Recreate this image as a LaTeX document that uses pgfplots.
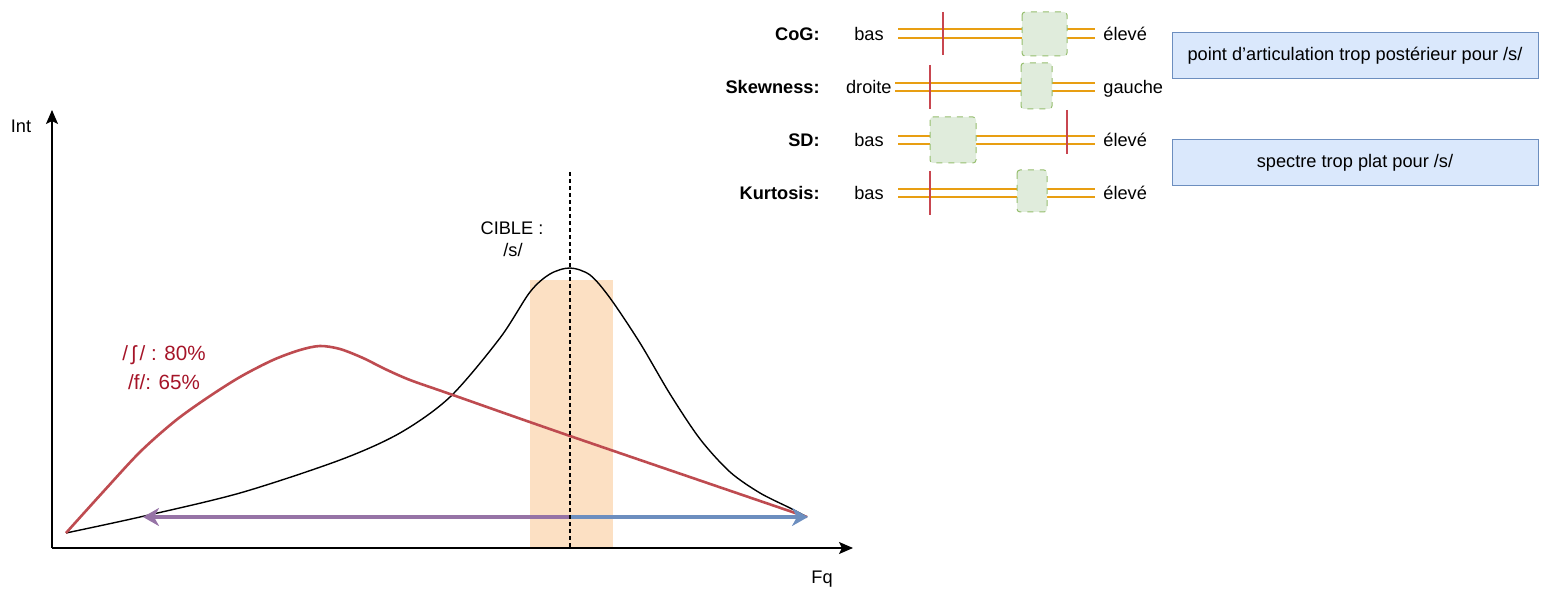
\documentclass[border=0pt]{standalone}
\usepackage{fontspec}
\setmainfont{Liberation Sans}
\usepackage{pgfplots}
\pgfplotsset{compat=1.18}
\usetikzlibrary{arrows.meta}
\definecolor{redc}{RGB}{190,75,80}
\definecolor{redtxt}{RGB}{165,20,40}
\definecolor{purc}{RGB}{150,115,166}
\definecolor{bluc}{RGB}{108,142,191}
\definecolor{bandc}{RGB}{252,224,195}
\definecolor{orc}{RGB}{232,158,18}
\definecolor{tickc}{RGB}{200,70,80}
\definecolor{grfill}{RGB}{224,236,220}
\definecolor{grdraw}{RGB}{150,190,110}
\definecolor{blfill}{RGB}{218,232,252}
\definecolor{bldraw}{RGB}{108,142,191}
\begin{document}
\begin{tikzpicture}[every node/.style={font=\fontsize{9.1}{11}\selectfont, inner sep=0pt}]
\begin{axis}[width=772.5pt,height=296pt,scale only axis,
  xmin=0,xmax=1545,ymin=0,ymax=592,y dir=reverse,hide axis,clip=false]
\path (axis cs:0,0) rectangle (axis cs:1545,592);
% band
\addplot[fill=bandc,draw=none] coordinates {(530,280) (613,280) (613,548) (530,548)} -- cycle;
% black curve
\addplot[black,line width=0.7pt,smooth,mark=none] coordinates {
(66,533) (140,517) (240,493) (340,460) (400,433) (450,397) (500,338) (530,292)
(550,274) (570,268) (590,275) (610,298) (640,343) (670,394) (700,439) (730,472)
(760,493) (790,508) (807,517)};
% red curve
\addplot[redc,line width=1.3pt,smooth,mark=none] coordinates {
(66,533) (103,492) (140,452) (175,421) (207,398) (240,377) (273,360) (300,350) (320,346)
(340,349) (363,358) (385,369) (410,380) (450,394) (570,436) (807,517)};
% arrows
\addplot[purc,line width=2pt,-{Stealth[length=8pt,width=9pt,inset=2.5pt]},mark=none] coordinates {(570,517) (143,517)};
\addplot[bluc,line width=2pt,-{Stealth[length=8pt,width=9pt,inset=2.5pt]},mark=none] coordinates {(570,517) (808,517)};
% dashed target line
\draw[black,line width=0.6pt,dash pattern=on 2pt off 1.5pt] (axis cs:570,172) -- (axis cs:570,548);
% axes
\draw[black,line width=0.75pt,-{Stealth[length=7pt,width=6pt,inset=1.5pt]}] (axis cs:52,548) -- (axis cs:52,110);
\draw[black,line width=0.75pt,-{Stealth[length=7pt,width=6pt,inset=1.5pt]}] (axis cs:52,548) -- (axis cs:853,548);
\node at (axis cs:21,126) {Int};
\node at (axis cs:822,579) {Fq};
\node at (axis cs:512,228) {CIBLE :};
\node at (axis cs:513,250) {/s/};
\node[text=redtxt,font=\fontsize{10.3}{12}\selectfont] at (axis cs:164,355) {/\,ʃ\,/ : 80\%};
\node[text=redtxt,font=\fontsize{10.3}{12}\selectfont] at (axis cs:164,382) {/f/: 65\%};
% sliders
\draw[orc,line width=1.4pt] (axis cs:898,29) -- (axis cs:1095,29);
\draw[orc,line width=1.4pt] (axis cs:898,38) -- (axis cs:1095,38);
\draw[orc,line width=1.4pt] (axis cs:895,83) -- (axis cs:1095,83);
\draw[orc,line width=1.4pt] (axis cs:895,91) -- (axis cs:1095,91);
\draw[orc,line width=1.4pt] (axis cs:898,136) -- (axis cs:1095,136);
\draw[orc,line width=1.4pt] (axis cs:898,144) -- (axis cs:1095,144);
\draw[orc,line width=1.4pt] (axis cs:898,189) -- (axis cs:1095,189);
\draw[orc,line width=1.4pt] (axis cs:898,197) -- (axis cs:1095,197);
\draw[grdraw,fill=grfill,dashed,line width=0.5pt,rounded corners=1.5pt] (axis cs:1022,12) rectangle (axis cs:1067,56);
\draw[grdraw,fill=grfill,dashed,line width=0.5pt,rounded corners=1.5pt] (axis cs:1021,63) rectangle (axis cs:1052,109);
\draw[grdraw,fill=grfill,dashed,line width=0.5pt,rounded corners=1.5pt] (axis cs:930,117) rectangle (axis cs:976,163);
\draw[grdraw,fill=grfill,dashed,line width=0.5pt,rounded corners=1.5pt] (axis cs:1017,170) rectangle (axis cs:1047,212);
\draw[tickc,line width=1.2pt] (axis cs:943,12) -- (axis cs:943,55);
\draw[tickc,line width=1.2pt] (axis cs:930,65) -- (axis cs:930,109);
\draw[tickc,line width=1.2pt] (axis cs:1067,110) -- (axis cs:1067,154);
\draw[tickc,line width=1.2pt] (axis cs:930,171) -- (axis cs:930,215);
\node[anchor=mid east,font=\fontsize{9.1}{11}\selectfont\bfseries] at (axis cs:820,35) {CoG:};
\node[anchor=mid east,font=\fontsize{9.1}{11}\selectfont\bfseries] at (axis cs:820,88) {Skewness:};
\node[anchor=mid east,font=\fontsize{9.1}{11}\selectfont\bfseries] at (axis cs:820,141) {SD:};
\node[anchor=mid east,font=\fontsize{9.1}{11}\selectfont\bfseries] at (axis cs:820,194) {Kurtosis:};
\node[anchor=mid] at (axis cs:869,35) {bas};
\node[anchor=mid east] at (axis cs:892,88) {droite};
\node[anchor=mid] at (axis cs:869,141) {bas};
\node[anchor=mid] at (axis cs:869,194) {bas};
\node[anchor=mid west] at (axis cs:1103,35) {élevé};
\node[anchor=mid west] at (axis cs:1103,88) {gauche};
\node[anchor=mid west] at (axis cs:1103,141) {élevé};
\node[anchor=mid west] at (axis cs:1103,194) {élevé};
% blue boxes
\draw[bldraw,fill=blfill,line width=0.5pt] (axis cs:1172,33) rectangle (axis cs:1538,79);
\node at (axis cs:1355,56) {point d'articulation trop postérieur pour /s/};
\draw[bldraw,fill=blfill,line width=0.5pt] (axis cs:1172,140) rectangle (axis cs:1538,186);
\node at (axis cs:1355,163) {spectre trop plat pour /s/};
\end{axis}
\end{tikzpicture}
\end{document}
